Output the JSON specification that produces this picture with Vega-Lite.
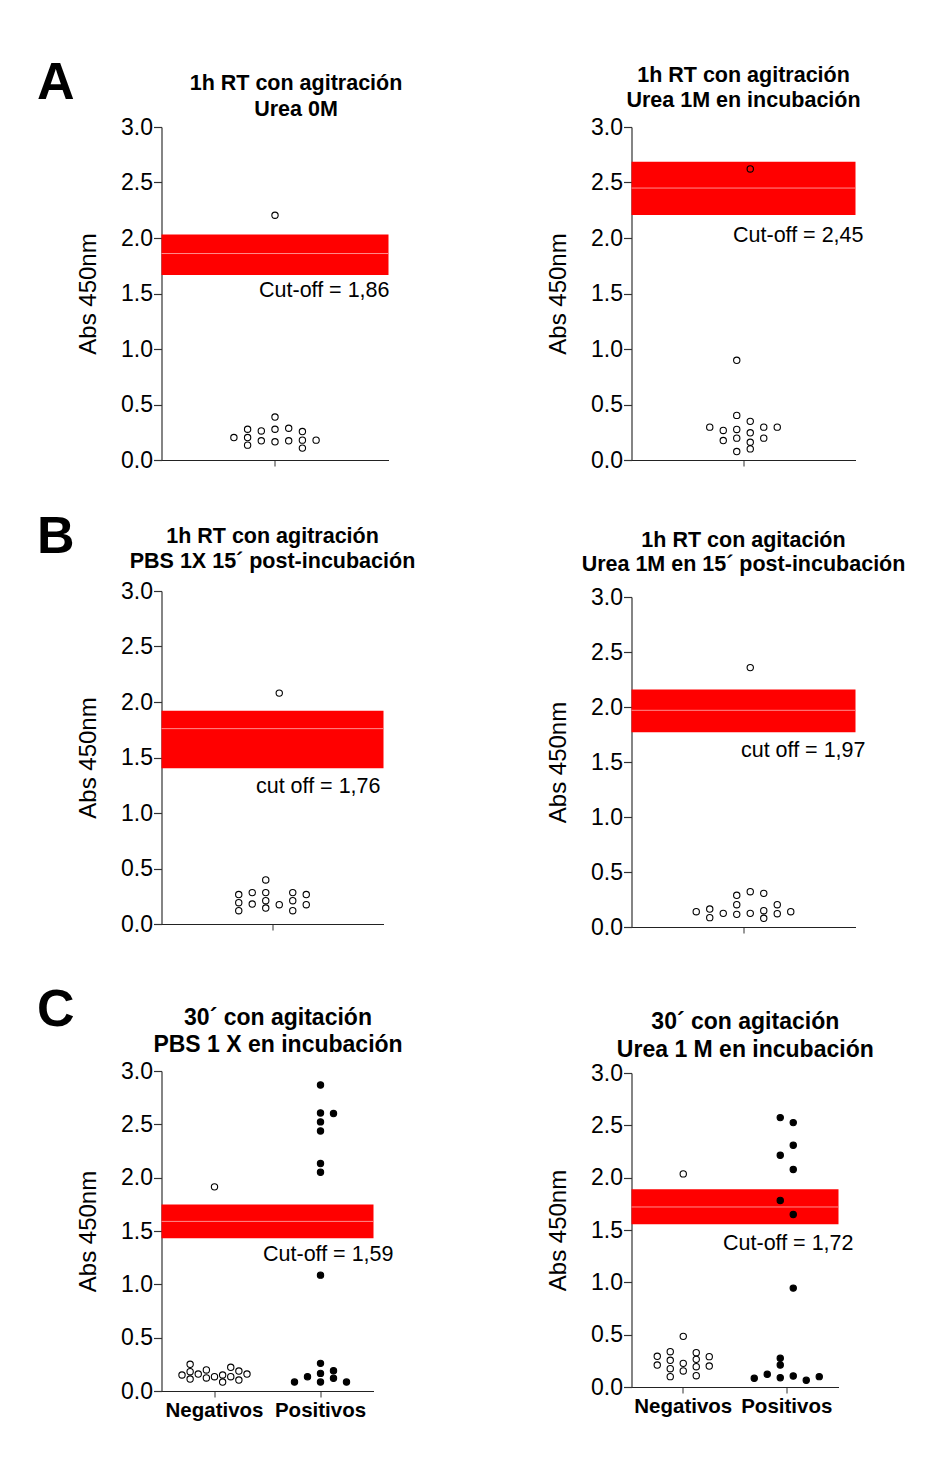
{
  "$schema": "https://vega.github.io/schema/vega-lite/v6.json",
  "background": "white",
  "autosize": {"type": "pad"},
  "padding": {"left": 36.5, "top": 56, "right": 10, "bottom": 10},
  "config": {
    "font": "Liberation Sans",
    "view": {"stroke": null},
    "title": {"font": "Liberation Sans", "fontWeight": "bold", "color": "black"},
    "axis": {"grid": false, "labelFont": "Liberation Sans", "titleFont": "Liberation Sans", "labelColor": "black", "titleColor": "black"},
    "axisY": {"labelFontSize": 23, "titleFontSize": 24, "titleFontWeight": "normal", "tickSize": 8, "labelPadding": 1, "titlePadding": 20, "domainColor": "#333", "tickColor": "#333", "domainWidth": 1.2, "tickWidth": 1.2},
    "axisX": {"tickSize": 6, "domainColor": "#222", "tickColor": "#333", "domainWidth": 1.2, "labelFontSize": 20.5, "labelFontWeight": "bold", "labelPadding": 3, "labelAngle": 0}
  },
  "datasets": {
    "pA1": [
      {"grupo": "Muestras", "jitter": 0, "abs": 2.205},
      {"grupo": "Muestras", "jitter": 0, "abs": 0.387},
      {"grupo": "Muestras", "jitter": -3, "abs": 0.202},
      {"grupo": "Muestras", "jitter": -2, "abs": 0.277},
      {"grupo": "Muestras", "jitter": -2, "abs": 0.202},
      {"grupo": "Muestras", "jitter": -2, "abs": 0.134},
      {"grupo": "Muestras", "jitter": -1, "abs": 0.262},
      {"grupo": "Muestras", "jitter": -1, "abs": 0.173},
      {"grupo": "Muestras", "jitter": 0, "abs": 0.277},
      {"grupo": "Muestras", "jitter": 0, "abs": 0.164},
      {"grupo": "Muestras", "jitter": 1, "abs": 0.286},
      {"grupo": "Muestras", "jitter": 1, "abs": 0.173},
      {"grupo": "Muestras", "jitter": 2, "abs": 0.256},
      {"grupo": "Muestras", "jitter": 2, "abs": 0.179},
      {"grupo": "Muestras", "jitter": 2, "abs": 0.107},
      {"grupo": "Muestras", "jitter": 3, "abs": 0.179}
    ],
    "bA1": [{"lo": 1.666, "hi": 2.032, "cutoff": 1.86, "etiqueta": "Cut-off = 1,86"}],
    "pA2": [
      {"grupo": "Muestras", "jitter": 0.5, "abs": 2.622},
      {"grupo": "Muestras", "jitter": -0.5, "abs": 0.898},
      {"grupo": "Muestras", "jitter": -0.5, "abs": 0.402},
      {"grupo": "Muestras", "jitter": 0.5, "abs": 0.348},
      {"grupo": "Muestras", "jitter": -2.5, "abs": 0.296},
      {"grupo": "Muestras", "jitter": 1.5, "abs": 0.296},
      {"grupo": "Muestras", "jitter": 2.5, "abs": 0.296},
      {"grupo": "Muestras", "jitter": -1.5, "abs": 0.266},
      {"grupo": "Muestras", "jitter": -0.5, "abs": 0.275},
      {"grupo": "Muestras", "jitter": 0.5, "abs": 0.245},
      {"grupo": "Muestras", "jitter": -1.5, "abs": 0.175},
      {"grupo": "Muestras", "jitter": -0.5, "abs": 0.197},
      {"grupo": "Muestras", "jitter": 0.5, "abs": 0.16},
      {"grupo": "Muestras", "jitter": 1.5, "abs": 0.197},
      {"grupo": "Muestras", "jitter": -0.5, "abs": 0.076},
      {"grupo": "Muestras", "jitter": 0.5, "abs": 0.1}
    ],
    "bA2": [{"lo": 2.207, "hi": 2.688, "cutoff": 2.45, "etiqueta": "Cut-off = 2,45"}],
    "pB1": [
      {"grupo": "Muestras", "jitter": 0.5, "abs": 2.08},
      {"grupo": "Muestras", "jitter": -0.5, "abs": 0.397},
      {"grupo": "Muestras", "jitter": -2.5, "abs": 0.265},
      {"grupo": "Muestras", "jitter": -2.5, "abs": 0.192},
      {"grupo": "Muestras", "jitter": -2.5, "abs": 0.12},
      {"grupo": "Muestras", "jitter": -1.5, "abs": 0.283},
      {"grupo": "Muestras", "jitter": -1.5, "abs": 0.18},
      {"grupo": "Muestras", "jitter": -0.5, "abs": 0.283},
      {"grupo": "Muestras", "jitter": -0.5, "abs": 0.21},
      {"grupo": "Muestras", "jitter": -0.5, "abs": 0.144},
      {"grupo": "Muestras", "jitter": 0.5, "abs": 0.174},
      {"grupo": "Muestras", "jitter": 1.5, "abs": 0.283},
      {"grupo": "Muestras", "jitter": 1.5, "abs": 0.21},
      {"grupo": "Muestras", "jitter": 1.5, "abs": 0.12},
      {"grupo": "Muestras", "jitter": 2.5, "abs": 0.265},
      {"grupo": "Muestras", "jitter": 2.5, "abs": 0.174}
    ],
    "bB1": [{"lo": 1.404, "hi": 1.921, "cutoff": 1.76, "etiqueta": "cut off = 1,76"}],
    "pB2": [
      {"grupo": "Muestras", "jitter": 0.5, "abs": 2.358},
      {"grupo": "Muestras", "jitter": 0.5, "abs": 0.321},
      {"grupo": "Muestras", "jitter": 1.5, "abs": 0.306},
      {"grupo": "Muestras", "jitter": -0.5, "abs": 0.288},
      {"grupo": "Muestras", "jitter": -0.5, "abs": 0.203},
      {"grupo": "Muestras", "jitter": 2.5, "abs": 0.203},
      {"grupo": "Muestras", "jitter": -3.5, "abs": 0.139},
      {"grupo": "Muestras", "jitter": -2.5, "abs": 0.163},
      {"grupo": "Muestras", "jitter": -2.5, "abs": 0.085},
      {"grupo": "Muestras", "jitter": -1.5, "abs": 0.124},
      {"grupo": "Muestras", "jitter": -0.5, "abs": 0.115},
      {"grupo": "Muestras", "jitter": 0.5, "abs": 0.124},
      {"grupo": "Muestras", "jitter": 1.5, "abs": 0.148},
      {"grupo": "Muestras", "jitter": 1.5, "abs": 0.079},
      {"grupo": "Muestras", "jitter": 2.5, "abs": 0.121},
      {"grupo": "Muestras", "jitter": 3.5, "abs": 0.139}
    ],
    "bB2": [{"lo": 1.771, "hi": 2.159, "cutoff": 1.97, "etiqueta": "cut off = 1,97"}],
    "pC1": [
      {"grupo": "Negativos", "jitter": 0, "abs": 1.914},
      {"grupo": "Negativos", "jitter": -2.5, "abs": 0.15},
      {"grupo": "Negativos", "jitter": -1.875, "abs": 0.25},
      {"grupo": "Negativos", "jitter": -1.875, "abs": 0.181},
      {"grupo": "Negativos", "jitter": -1.875, "abs": 0.112},
      {"grupo": "Negativos", "jitter": -1.25, "abs": 0.159},
      {"grupo": "Negativos", "jitter": -0.625, "abs": 0.197},
      {"grupo": "Negativos", "jitter": -0.625, "abs": 0.122},
      {"grupo": "Negativos", "jitter": 0, "abs": 0.134},
      {"grupo": "Negativos", "jitter": 0.625, "abs": 0.15},
      {"grupo": "Negativos", "jitter": 0.625, "abs": 0.084},
      {"grupo": "Negativos", "jitter": 1.25, "abs": 0.222},
      {"grupo": "Negativos", "jitter": 1.25, "abs": 0.134},
      {"grupo": "Negativos", "jitter": 1.875, "abs": 0.187},
      {"grupo": "Negativos", "jitter": 1.875, "abs": 0.103},
      {"grupo": "Negativos", "jitter": 2.5, "abs": 0.159},
      {"grupo": "Positivos", "jitter": 0, "abs": 2.869},
      {"grupo": "Positivos", "jitter": 0, "abs": 2.607},
      {"grupo": "Positivos", "jitter": 1, "abs": 2.601},
      {"grupo": "Positivos", "jitter": 0, "abs": 2.523},
      {"grupo": "Positivos", "jitter": 0, "abs": 2.438},
      {"grupo": "Positivos", "jitter": 0, "abs": 2.132},
      {"grupo": "Positivos", "jitter": 0, "abs": 2.051},
      {"grupo": "Positivos", "jitter": 0, "abs": 1.086},
      {"grupo": "Positivos", "jitter": 0, "abs": 0.259},
      {"grupo": "Positivos", "jitter": 0, "abs": 0.165},
      {"grupo": "Positivos", "jitter": 1, "abs": 0.19},
      {"grupo": "Positivos", "jitter": -1, "abs": 0.134},
      {"grupo": "Positivos", "jitter": 1, "abs": 0.119},
      {"grupo": "Positivos", "jitter": -2, "abs": 0.084},
      {"grupo": "Positivos", "jitter": 0, "abs": 0.084},
      {"grupo": "Positivos", "jitter": 2, "abs": 0.084}
    ],
    "bC1": [{"lo": 1.433, "hi": 1.748, "cutoff": 1.59, "etiqueta": "Cut-off = 1,59"}],
    "pC2": [
      {"grupo": "Negativos", "jitter": 0, "abs": 2.036},
      {"grupo": "Negativos", "jitter": 0, "abs": 0.484},
      {"grupo": "Negativos", "jitter": -2, "abs": 0.293},
      {"grupo": "Negativos", "jitter": -2, "abs": 0.21},
      {"grupo": "Negativos", "jitter": -1, "abs": 0.337},
      {"grupo": "Negativos", "jitter": -1, "abs": 0.255},
      {"grupo": "Negativos", "jitter": -1, "abs": 0.175},
      {"grupo": "Negativos", "jitter": -1, "abs": 0.099},
      {"grupo": "Negativos", "jitter": 0, "abs": 0.226},
      {"grupo": "Negativos", "jitter": 0, "abs": 0.153},
      {"grupo": "Negativos", "jitter": 1, "abs": 0.328},
      {"grupo": "Negativos", "jitter": 1, "abs": 0.264},
      {"grupo": "Negativos", "jitter": 1, "abs": 0.194},
      {"grupo": "Negativos", "jitter": 1, "abs": 0.108},
      {"grupo": "Negativos", "jitter": 2, "abs": 0.29},
      {"grupo": "Negativos", "jitter": 2, "abs": 0.2},
      {"grupo": "Positivos", "jitter": -0.5, "abs": 2.574},
      {"grupo": "Positivos", "jitter": 0.5, "abs": 2.526},
      {"grupo": "Positivos", "jitter": 0.5, "abs": 2.31},
      {"grupo": "Positivos", "jitter": -0.5, "abs": 2.214},
      {"grupo": "Positivos", "jitter": 0.5, "abs": 2.078},
      {"grupo": "Positivos", "jitter": -0.5, "abs": 1.782},
      {"grupo": "Positivos", "jitter": 0.5, "abs": 1.648},
      {"grupo": "Positivos", "jitter": 0.5, "abs": 0.945},
      {"grupo": "Positivos", "jitter": -0.5, "abs": 0.274},
      {"grupo": "Positivos", "jitter": -0.5, "abs": 0.21},
      {"grupo": "Positivos", "jitter": -2.5, "abs": 0.083},
      {"grupo": "Positivos", "jitter": -1.5, "abs": 0.121},
      {"grupo": "Positivos", "jitter": -0.5, "abs": 0.089},
      {"grupo": "Positivos", "jitter": 0.5, "abs": 0.105},
      {"grupo": "Positivos", "jitter": 1.5, "abs": 0.064},
      {"grupo": "Positivos", "jitter": 2.5, "abs": 0.099}
    ],
    "bC2": [{"lo": 1.556, "hi": 1.89, "cutoff": 1.72, "etiqueta": "Cut-off = 1,72"}]
  },
  "resolve": {"scale": {"xOffset": "independent", "fill": "independent"}},
  "spacing": 131,
  "hconcat": [
    {
      "spacing": 38,
      "resolve": {"scale": {"xOffset": "independent", "fill": "independent"}},
      "vconcat": [
        {
          "title": {"text": "A", "fontSize": 52, "fontWeight": "bold", "anchor": "start", "frame": "bounds", "offset": -37, "dx": -39.5},
          "resolve": {"scale": {"xOffset": "independent", "fill": "independent"}},
          "hconcat": [
            {
              "width": 227, "height": 333,
              "title": {"text": ["1h RT con agitración", "Urea 0M"], "fontSize": 21.5, "lineHeight": 26, "anchor": "middle", "frame": "group", "offset": -4, "dx": 21},
              "layer": [
                {"data": {"name": "bA1"}, "mark": {"type": "rect", "color": "#ff0000"},
                 "encoding": {"y": {"field": "lo", "type": "quantitative", "scale": {"domain": [0, 3], "nice": false}, "axis": {"title": "Abs 450nm", "values": [0, 0.5, 1, 1.5, 2, 2.5, 3], "format": ".1f"}}, "y2": {"field": "hi"}}},
                {"data": {"name": "bA1"}, "mark": {"type": "rule", "color": "#ff8c8c", "strokeWidth": 1},
                 "encoding": {"y": {"field": "cutoff", "type": "quantitative", "scale": {"domain": [0, 3], "nice": false}, "axis": {"title": "Abs 450nm", "values": [0, 0.5, 1, 1.5, 2, 2.5, 3], "format": ".1f"}}}},
                {"data": {"name": "bA1"}, "mark": {"type": "text", "align": "right", "baseline": "top", "fontSize": 21.5, "color": "black", "dx": 1, "dy": 5},
                 "encoding": {"x": {"value": "width"}, "y": {"field": "lo", "type": "quantitative", "scale": {"domain": [0, 3], "nice": false}, "axis": {"title": "Abs 450nm", "values": [0, 0.5, 1, 1.5, 2, 2.5, 3], "format": ".1f"}}, "text": {"field": "etiqueta"}}},
                {"data": {"name": "pA1"}, "mark": {"type": "point", "shape": "circle", "size": 40, "stroke": "black", "strokeWidth": 1.1, "opacity": 1},
                 "encoding": {
                   "x": {"field": "grupo", "type": "nominal", "scale": {"type": "band", "paddingInner": 0, "paddingOuter": 0}, "axis": {"title": null, "labels": false, "ticks": true}},
                   "xOffset": {"field": "jitter", "type": "quantitative", "scale": {"domain": [-8.285, 8.285]}},
                   "y": {"field": "abs", "type": "quantitative", "scale": {"domain": [0, 3], "nice": false}, "axis": {"title": "Abs 450nm", "values": [0, 0.5, 1, 1.5, 2, 2.5, 3], "format": ".1f"}},
                   "fill": {"field": "grupo", "type": "nominal", "scale": {"domain": ["Muestras", "Negativos", "Positivos"], "range": ["transparent", "transparent", "black"]}, "legend": null}
                 }}
              ]
            }
          ]
        },
        {
          "spacing": 47,
          "resolve": {"scale": {"xOffset": "independent", "fill": "independent"}},
          "vconcat": [
            {
              "title": {"text": "B", "fontSize": 52, "fontWeight": "bold", "anchor": "start", "frame": "bounds", "offset": -38.4, "dx": -39.5},
              "resolve": {"scale": {"xOffset": "independent", "fill": "independent"}},
              "hconcat": [
                {
                  "width": 222, "height": 333,
                  "title": {"text": ["1h RT con agitración", "PBS 1X 15\u00b4 post-incubación"], "fontSize": 21.5, "lineHeight": 25, "anchor": "middle", "frame": "group", "offset": 8},
                  "layer": [
                    {"data": {"name": "bB1"}, "mark": {"type": "rect", "color": "#ff0000"},
                     "encoding": {"y": {"field": "lo", "type": "quantitative", "scale": {"domain": [0, 3], "nice": false}, "axis": {"title": "Abs 450nm", "values": [0, 0.5, 1, 1.5, 2, 2.5, 3], "format": ".1f"}}, "y2": {"field": "hi"}}},
                    {"data": {"name": "bB1"}, "mark": {"type": "rule", "color": "#ff8c8c", "strokeWidth": 1},
                     "encoding": {"y": {"field": "cutoff", "type": "quantitative", "scale": {"domain": [0, 3], "nice": false}, "axis": {"title": "Abs 450nm", "values": [0, 0.5, 1, 1.5, 2, 2.5, 3], "format": ".1f"}}}},
                    {"data": {"name": "bB1"}, "mark": {"type": "text", "align": "right", "baseline": "top", "fontSize": 21.5, "color": "black", "dx": -3, "dy": 8},
                     "encoding": {"x": {"value": "width"}, "y": {"field": "lo", "type": "quantitative", "scale": {"domain": [0, 3], "nice": false}, "axis": {"title": "Abs 450nm", "values": [0, 0.5, 1, 1.5, 2, 2.5, 3], "format": ".1f"}}, "text": {"field": "etiqueta"}}},
                    {"data": {"name": "pB1"}, "mark": {"type": "point", "shape": "circle", "size": 40, "stroke": "black", "strokeWidth": 1.1, "opacity": 1},
                     "encoding": {
                       "x": {"field": "grupo", "type": "nominal", "scale": {"type": "band", "paddingInner": 0, "paddingOuter": 0}, "axis": {"title": null, "labels": false, "ticks": true}},
                       "xOffset": {"field": "jitter", "type": "quantitative", "scale": {"domain": [-8.222, 8.222]}},
                       "y": {"field": "abs", "type": "quantitative", "scale": {"domain": [0, 3], "nice": false}, "axis": {"title": "Abs 450nm", "values": [0, 0.5, 1, 1.5, 2, 2.5, 3], "format": ".1f"}},
                       "fill": {"field": "grupo", "type": "nominal", "scale": {"domain": ["Muestras", "Negativos", "Positivos"], "range": ["transparent", "transparent", "black"]}, "legend": null}
                     }}
                  ]
                }
              ]
            },
            {
              "title": {"text": "C", "fontSize": 52, "fontWeight": "bold", "anchor": "start", "frame": "bounds", "offset": -30, "dx": -39.5},
              "resolve": {"scale": {"xOffset": "independent", "fill": "independent"}},
              "hconcat": [
                {
                  "width": 212, "height": 320,
                  "title": {"text": ["30\u00b4 con agitación", "PBS 1 X en incubación"], "fontSize": 23, "lineHeight": 27.5, "anchor": "middle", "frame": "group", "offset": 3, "dx": 10.5},
                  "layer": [
                    {"data": {"name": "bC1"}, "mark": {"type": "rect", "color": "#ff0000"},
                     "encoding": {"y": {"field": "lo", "type": "quantitative", "scale": {"domain": [0, 3], "nice": false}, "axis": {"title": "Abs 450nm", "values": [0, 0.5, 1, 1.5, 2, 2.5, 3], "format": ".1f"}}, "y2": {"field": "hi"}}},
                    {"data": {"name": "bC1"}, "mark": {"type": "rule", "color": "#ff8c8c", "strokeWidth": 1},
                     "encoding": {"y": {"field": "cutoff", "type": "quantitative", "scale": {"domain": [0, 3], "nice": false}, "axis": {"title": "Abs 450nm", "values": [0, 0.5, 1, 1.5, 2, 2.5, 3], "format": ".1f"}}}},
                    {"data": {"name": "bC1"}, "mark": {"type": "text", "align": "right", "baseline": "top", "fontSize": 21.5, "color": "black", "dx": 20, "dy": 6},
                     "encoding": {"x": {"value": "width"}, "y": {"field": "lo", "type": "quantitative", "scale": {"domain": [0, 3], "nice": false}, "axis": {"title": "Abs 450nm", "values": [0, 0.5, 1, 1.5, 2, 2.5, 3], "format": ".1f"}}, "text": {"field": "etiqueta"}}},
                    {"data": {"name": "pC1"}, "mark": {"type": "point", "shape": "circle", "size": 40, "stroke": "black", "strokeWidth": 1.1, "opacity": 1},
                     "encoding": {
                       "x": {"field": "grupo", "type": "nominal", "scale": {"type": "band", "paddingInner": 0, "paddingOuter": 0, "domain": ["Negativos", "Positivos"]}, "axis": {"title": null, "ticks": true}},
                       "xOffset": {"field": "jitter", "type": "quantitative", "scale": {"domain": [-4.077, 4.077]}},
                       "y": {"field": "abs", "type": "quantitative", "scale": {"domain": [0, 3], "nice": false}, "axis": {"title": "Abs 450nm", "values": [0, 0.5, 1, 1.5, 2, 2.5, 3], "format": ".1f"}},
                       "fill": {"field": "grupo", "type": "nominal", "scale": {"domain": ["Muestras", "Negativos", "Positivos"], "range": ["transparent", "transparent", "black"]}, "legend": null}
                     }}
                  ]
                }
              ]
            }
          ]
        }
      ]
    },
    {
      "spacing": 57,
      "resolve": {"scale": {"xOffset": "independent", "fill": "independent"}},
      "vconcat": [
        {
          "width": 224, "height": 333,
          "title": {"text": ["1h RT con agitración", "Urea 1M en incubación"], "fontSize": 21.5, "lineHeight": 24.5, "anchor": "middle", "frame": "group", "offset": 5},
          "layer": [
            {"data": {"name": "bA2"}, "mark": {"type": "rect", "color": "#ff0000"},
             "encoding": {"y": {"field": "lo", "type": "quantitative", "scale": {"domain": [0, 3], "nice": false}, "axis": {"title": "Abs 450nm", "values": [0, 0.5, 1, 1.5, 2, 2.5, 3], "format": ".1f"}}, "y2": {"field": "hi"}}},
            {"data": {"name": "bA2"}, "mark": {"type": "rule", "color": "#ff8c8c", "strokeWidth": 1},
             "encoding": {"y": {"field": "cutoff", "type": "quantitative", "scale": {"domain": [0, 3], "nice": false}, "axis": {"title": "Abs 450nm", "values": [0, 0.5, 1, 1.5, 2, 2.5, 3], "format": ".1f"}}}},
            {"data": {"name": "bA2"}, "mark": {"type": "text", "align": "right", "baseline": "top", "fontSize": 21.5, "color": "black", "dx": 8, "dy": 10},
             "encoding": {"x": {"value": "width"}, "y": {"field": "lo", "type": "quantitative", "scale": {"domain": [0, 3], "nice": false}, "axis": {"title": "Abs 450nm", "values": [0, 0.5, 1, 1.5, 2, 2.5, 3], "format": ".1f"}}, "text": {"field": "etiqueta"}}},
            {"data": {"name": "pA2"}, "mark": {"type": "point", "shape": "circle", "size": 40, "stroke": "black", "strokeWidth": 1.1, "opacity": 1},
             "encoding": {
               "x": {"field": "grupo", "type": "nominal", "scale": {"type": "band", "paddingInner": 0, "paddingOuter": 0}, "axis": {"title": null, "labels": false, "ticks": true}},
               "xOffset": {"field": "jitter", "type": "quantitative", "scale": {"domain": [-8.296, 8.296]}},
               "y": {"field": "abs", "type": "quantitative", "scale": {"domain": [0, 3], "nice": false}, "axis": {"title": "Abs 450nm", "values": [0, 0.5, 1, 1.5, 2, 2.5, 3], "format": ".1f"}},
               "fill": {"field": "grupo", "type": "nominal", "scale": {"domain": ["Muestras", "Negativos", "Positivos"], "range": ["transparent", "transparent", "black"]}, "legend": null}
             }}
          ]
        },
        {
          "spacing": 71,
          "resolve": {"scale": {"xOffset": "independent", "fill": "independent"}},
          "vconcat": [
            {
              "width": 224, "height": 330,
              "title": {"text": ["1h RT con agitación", "Urea 1M en 15\u00b4 post-incubación"], "fontSize": 21.5, "lineHeight": 24.7, "anchor": "middle", "frame": "group", "offset": 10},
              "layer": [
                {"data": {"name": "bB2"}, "mark": {"type": "rect", "color": "#ff0000"},
                 "encoding": {"y": {"field": "lo", "type": "quantitative", "scale": {"domain": [0, 3], "nice": false}, "axis": {"title": "Abs 450nm", "values": [0, 0.5, 1, 1.5, 2, 2.5, 3], "format": ".1f"}}, "y2": {"field": "hi"}}},
                {"data": {"name": "bB2"}, "mark": {"type": "rule", "color": "#ff8c8c", "strokeWidth": 1},
                 "encoding": {"y": {"field": "cutoff", "type": "quantitative", "scale": {"domain": [0, 3], "nice": false}, "axis": {"title": "Abs 450nm", "values": [0, 0.5, 1, 1.5, 2, 2.5, 3], "format": ".1f"}}}},
                {"data": {"name": "bB2"}, "mark": {"type": "text", "align": "right", "baseline": "top", "fontSize": 21.5, "color": "black", "dx": 10, "dy": 7.5},
                 "encoding": {"x": {"value": "width"}, "y": {"field": "lo", "type": "quantitative", "scale": {"domain": [0, 3], "nice": false}, "axis": {"title": "Abs 450nm", "values": [0, 0.5, 1, 1.5, 2, 2.5, 3], "format": ".1f"}}, "text": {"field": "etiqueta"}}},
                {"data": {"name": "pB2"}, "mark": {"type": "point", "shape": "circle", "size": 40, "stroke": "black", "strokeWidth": 1.1, "opacity": 1},
                 "encoding": {
                   "x": {"field": "grupo", "type": "nominal", "scale": {"type": "band", "paddingInner": 0, "paddingOuter": 0}, "axis": {"title": null, "labels": false, "ticks": true}},
                   "xOffset": {"field": "jitter", "type": "quantitative", "scale": {"domain": [-8.296, 8.296]}},
                   "y": {"field": "abs", "type": "quantitative", "scale": {"domain": [0, 3], "nice": false}, "axis": {"title": "Abs 450nm", "values": [0, 0.5, 1, 1.5, 2, 2.5, 3], "format": ".1f"}},
                   "fill": {"field": "grupo", "type": "nominal", "scale": {"domain": ["Muestras", "Negativos", "Positivos"], "range": ["transparent", "transparent", "black"]}, "legend": null}
                 }}
              ]
            },
            {
              "width": 207, "height": 314,
              "title": {"text": ["30\u00b4 con agitación", "Urea 1 M en incubación"], "fontSize": 23, "lineHeight": 28.3, "anchor": "middle", "frame": "group", "offset": 0, "dx": 10.3},
              "layer": [
                {"data": {"name": "bC2"}, "mark": {"type": "rect", "color": "#ff0000"},
                 "encoding": {"y": {"field": "lo", "type": "quantitative", "scale": {"domain": [0, 3], "nice": false}, "axis": {"title": "Abs 450nm", "values": [0, 0.5, 1, 1.5, 2, 2.5, 3], "format": ".1f"}}, "y2": {"field": "hi"}}},
                {"data": {"name": "bC2"}, "mark": {"type": "rule", "color": "#ff8c8c", "strokeWidth": 1},
                 "encoding": {"y": {"field": "cutoff", "type": "quantitative", "scale": {"domain": [0, 3], "nice": false}, "axis": {"title": "Abs 450nm", "values": [0, 0.5, 1, 1.5, 2, 2.5, 3], "format": ".1f"}}}},
                {"data": {"name": "bC2"}, "mark": {"type": "text", "align": "right", "baseline": "top", "fontSize": 21.5, "color": "black", "dx": 15, "dy": 8.5},
                 "encoding": {"x": {"value": "width"}, "y": {"field": "lo", "type": "quantitative", "scale": {"domain": [0, 3], "nice": false}, "axis": {"title": "Abs 450nm", "values": [0, 0.5, 1, 1.5, 2, 2.5, 3], "format": ".1f"}}, "text": {"field": "etiqueta"}}},
                {"data": {"name": "pC2"}, "mark": {"type": "point", "shape": "circle", "size": 40, "stroke": "black", "strokeWidth": 1.1, "opacity": 1},
                 "encoding": {
                   "x": {"field": "grupo", "type": "nominal", "scale": {"type": "band", "paddingInner": 0, "paddingOuter": 0, "domain": ["Negativos", "Positivos"]}, "axis": {"title": null, "ticks": true}},
                   "xOffset": {"field": "jitter", "type": "quantitative", "scale": {"domain": [-3.981, 3.981]}},
                   "y": {"field": "abs", "type": "quantitative", "scale": {"domain": [0, 3], "nice": false}, "axis": {"title": "Abs 450nm", "values": [0, 0.5, 1, 1.5, 2, 2.5, 3], "format": ".1f"}},
                   "fill": {"field": "grupo", "type": "nominal", "scale": {"domain": ["Muestras", "Negativos", "Positivos"], "range": ["transparent", "transparent", "black"]}, "legend": null}
                 }}
              ]
            }
          ]
        }
      ]
    }
  ]
}
